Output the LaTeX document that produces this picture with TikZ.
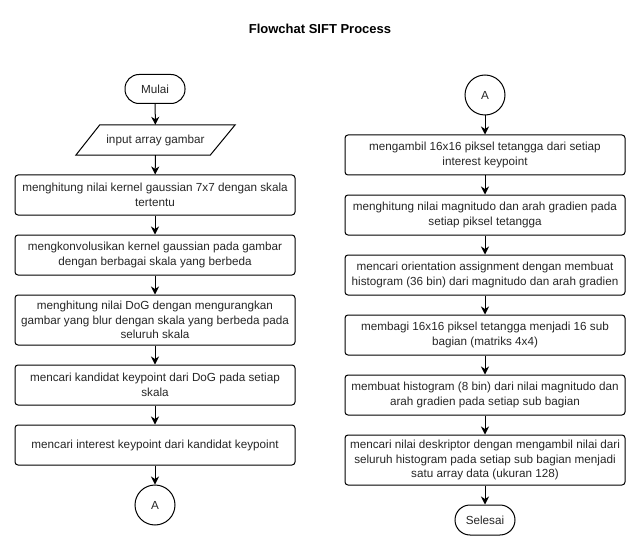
\documentclass[tikz,border=0pt]{standalone}
\usepackage{fontspec}
\setmainfont{Liberation Sans}
\usetikzlibrary{arrows.meta}
\begin{document}
\begin{tikzpicture}[x=1pt,y=-1pt,
  every node/.style={font=\fontsize{11.7}{14.6}\selectfont, text=black!85},
  box/.style={draw=black, line width=1pt, rounded corners=3pt, minimum width=280pt, align=center, inner sep=0pt},
  term/.style={draw=black, line width=1pt, rounded corners=14pt, minimum width=60pt, minimum height=29pt, inner sep=0pt},
  conn/.style={draw=black, line width=1pt, circle, minimum size=40pt, inner sep=0pt},
  flow/.style={line width=1pt, -{Stealth[length=8pt,width=8pt,inset=2.5pt]}}]
\useasboundingbox (0,0) rectangle (641,551);
\node[font=\fontsize{13}{15}\selectfont\bfseries, text=black] (title) at (320,29) {Flowchat SIFT Process};
% left column
\node[term] (mulai) at (155,89) {Mulai};
\node[minimum width=159pt, minimum height=30pt, inner sep=0pt] (input) at (155.5,140) {input array gambar};
\draw[line width=1pt] ([xshift=24pt]input.north west) -- (input.north east) -- ([xshift=-25pt]input.south east) -- (input.south west) -- cycle;
\node[box, minimum height=40pt] (l1) at (155,195) {menghitung nilai kernel gaussian 7x7 dengan skala\\tertentu};
\node[box, minimum height=40pt] (l2) at (155,255) {mengkonvolusikan kernel gaussian pada gambar\\dengan berbagai skala yang berbeda};
\node[box, minimum height=50pt] (l3) at (155,320) {menghitung nilai DoG dengan mengurangkan\\gambar yang blur dengan skala yang berbeda pada\\seluruh skala};
\node[box, minimum height=40pt] (l4) at (155,385) {mencari kandidat keypoint dari DoG pada setiap\\skala};
\node[box, minimum height=40pt] (l5) at (155,445) {mencari interest keypoint dari kandidat keypoint};
\node[conn] (a1) at (155,505) {A};
\draw[flow] (mulai) -- (input);
\draw[flow] (input) -- (l1);
\draw[flow] (l1) -- (l2);
\draw[flow] (l2) -- (l3);
\draw[flow] (l3) -- (l4);
\draw[flow] (l4) -- (l5);
\draw[flow] (l5) -- (a1);
% right column
\node[conn] (a2) at (485,95) {A};
\node[box, minimum height=40pt] (r1) at (485,155) {mengambil 16x16 piksel tetangga dari setiap\\interest keypoint};
\node[box, minimum height=40pt] (r2) at (485,215) {menghitung nilai magnitudo dan arah gradien pada\\setiap piksel tetangga};
\node[box, minimum height=40pt] (r3) at (485,275) {mencari orientation assignment dengan membuat\\histogram (36 bin) dari magnitudo dan arah gradien};
\node[box, minimum height=40pt] (r4) at (485,335) {membagi 16x16 piksel tetangga menjadi 16 sub\\bagian (matriks 4x4)};
\node[box, minimum height=40pt] (r5) at (485,395) {membuat histogram (8 bin) dari nilai magnitudo dan\\arah gradien pada setiap sub bagian};
\node[box, minimum height=50pt] (r6) at (485,460) {mencari nilai deskriptor dengan mengambil nilai dari\\seluruh histogram pada setiap sub bagian menjadi\\satu array data (ukuran 128)};
\node[term, minimum height=30pt, rounded corners=15pt] (selesai) at (485,520) {Selesai};
\draw[flow] (a2) -- (r1);
\draw[flow] (r1) -- (r2);
\draw[flow] (r2) -- (r3);
\draw[flow] (r3) -- (r4);
\draw[flow] (r4) -- (r5);
\draw[flow] (r5) -- (r6);
\draw[flow] (r6) -- (selesai);
\end{tikzpicture}
\end{document}
